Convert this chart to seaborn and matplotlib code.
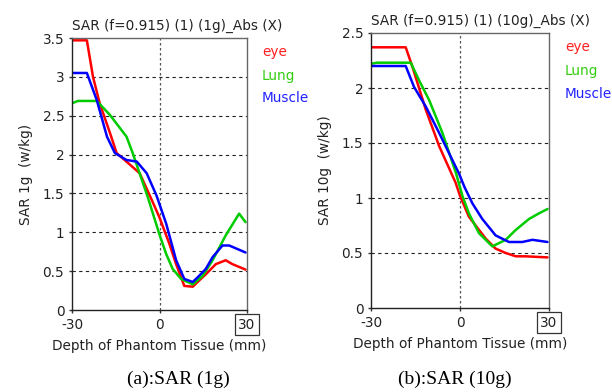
import numpy as np
import pandas as pd
import matplotlib
matplotlib.use("Agg")
import matplotlib.pyplot as plt
import seaborn as sns

# ---- data: panel (a) SAR 1g ----
a_eye_x = [-30, -24.9, -22.8, -20.5, -17, -14.7, -9.2, -6.8, -2.7, 0, 3.4, 5.7, 8.5, 11.4, 13.6, 15.9, 19.3, 22.7, 25, 29.5]
a_eye_y = [3.47, 3.47, 3.0, 2.66, 2.28, 2.02, 1.84, 1.76, 1.42, 1.19, 0.85, 0.59, 0.31, 0.30, 0.38, 0.46, 0.59, 0.64, 0.59, 0.52]
a_lung_x = [-30, -28, -21.5, -17, -11.3, -9.2, -4, 0, 2.3, 4.5, 7.4, 11.4, 14.8, 18.2, 22.7, 27.3, 29.5]
a_lung_y = [2.66, 2.69, 2.69, 2.51, 2.23, 2.02, 1.45, 0.97, 0.72, 0.53, 0.40, 0.33, 0.44, 0.64, 0.96, 1.24, 1.13]
a_muscle_x = [-30, -24.9, -21.5, -18, -15.3, -11.3, -7.8, -4.4, -1, 2.3, 5.7, 8.5, 11.4, 13.6, 15.9, 18.2, 21.6, 23.9, 29.5]
a_muscle_y = [3.05, 3.05, 2.7, 2.23, 2.02, 1.93, 1.91, 1.76, 1.47, 1.11, 0.64, 0.40, 0.36, 0.44, 0.53, 0.68, 0.83, 0.83, 0.74]

# ---- data: panel (b) SAR 10g ----
b_eye_x = [-30, -18.3, -16, -11.5, -7, -1.5, 0, 3, 6.4, 8.7, 12, 15.4, 18.8, 22, 29.5]
b_eye_y = [2.37, 2.37, 2.19, 1.80, 1.47, 1.14, 1.02, 0.83, 0.71, 0.63, 0.54, 0.50, 0.47, 0.47, 0.46]
b_lung_x = [-30, -28, -16.6, -13.8, -10.4, -5.9, -1.4, 0.8, 3, 6.4, 10.9, 15.4, 18.8, 23.3, 26.6, 29.5]
b_lung_y = [2.22, 2.23, 2.23, 2.07, 1.89, 1.59, 1.23, 1.02, 0.86, 0.68, 0.56, 0.62, 0.71, 0.81, 0.86, 0.90]
b_muscle_x = [-30, -18.3, -15.5, -11.5, -7, -0.3, 1.5, 4.2, 7.5, 12, 16.5, 21, 24.4, 29.5]
b_muscle_y = [2.20, 2.20, 2.01, 1.83, 1.59, 1.22, 1.10, 0.95, 0.81, 0.66, 0.60, 0.60, 0.62, 0.60]

series_names = ["eye", "Lung", "Muscle"]
line_colors = {"eye": "#ff0000", "Lung": "#00cc00", "Muscle": "#0000ff"}
label_colors = {"eye": "#ff2020", "Lung": "#33cc11", "Muscle": "#2222ff"}

x_ticks = [-30, 0, 30]
a_yticks = [0, 0.5, 1, 1.5, 2, 2.5, 3, 3.5]
b_yticks = [0, 0.5, 1, 1.5, 2, 2.5]


def make_df(xs, ys):
    frames = []
    for name, x, y in zip(series_names, xs, ys):
        frames.append(pd.DataFrame({"x": x, "y": y, "s": name}))
    return pd.concat(frames, ignore_index=True)


df_a = make_df([a_eye_x, a_lung_x, a_muscle_x], [a_eye_y, a_lung_y, a_muscle_y])
df_b = make_df([b_eye_x, b_lung_x, b_muscle_x], [b_eye_y, b_lung_y, b_muscle_y])

sns.set_style("white")
plt.rcParams["font.family"] = ["DejaVu Sans"]
plt.rcParams["axes.unicode_minus"] = False

fig = plt.figure(figsize=(6.12, 3.92), dpi=100)
ax_a = fig.add_axes([72 / 612, 1 - 310 / 392, (247 - 72) / 612, (310 - 38) / 392])
ax_b = fig.add_axes([371 / 612, 1 - 308 / 392, (549 - 371) / 612, (308 - 33) / 392])

fs = 9.8


def style(ax, df, yticks, ymax, title, ylabel, leg_x, leg_ys):
    sns.lineplot(data=df, x="x", y="y", hue="s", palette=line_colors, sort=False,
                 estimator=None, units="s", ax=ax, linewidth=1.8, legend=False)
    ax.set_xlim(-30, 30)
    ax.set_ylim(0, ymax)
    for yt in yticks[1:-1]:
        ax.axhline(yt, color="#222222", linestyle=(0, (3, 3)), linewidth=0.8, zorder=0)
    ax.axvline(0, color="#555555", linestyle=(0, (2, 2)), linewidth=0.9, zorder=0)
    ax.set_xticks(x_ticks)
    ax.set_xticklabels([str(v) for v in x_ticks])
    ax.set_yticks(yticks)
    ax.set_yticklabels([("%g" % v) for v in yticks])
    ax.tick_params(axis="both", direction="out", length=2.5, width=1.0, color="#333333",
                   labelsize=fs, pad=3, labelcolor="#222222", left=True, bottom=True)
    labels = ax.get_xticklabels()
    labels[-1].set_bbox(dict(boxstyle="square,pad=0.25", facecolor="white", edgecolor="#333333", linewidth=0.9))
    ax.set_xlabel("Depth of Phantom Tissue (mm)", fontsize=fs, color="#222222", labelpad=5)
    ax.set_ylabel(ylabel, fontsize=fs, color="#222222", labelpad=7)
    ax.set_title(title, fontsize=fs, color="#222222", loc="left", pad=6)
    for sp in ["left", "bottom"]:
        ax.spines[sp].set_color("#222222")
        ax.spines[sp].set_linewidth(1.0)
    for sp in ["top", "right"]:
        ax.spines[sp].set_color("#666666")
        ax.spines[sp].set_linewidth(1.0)
    for name, ly in zip(series_names, leg_ys):
        fig.text(leg_x / 612, 1 - ly / 392, name, color=label_colors[name], fontsize=fs,
                 va="center", ha="left")


style(ax_a, df_a, a_yticks, 3.5, "SAR (f=0.915) (1) (1g)_Abs (X)", "SAR 1g  (w/kg)",
      262, [52, 76, 98])
style(ax_b, df_b, b_yticks, 2.5, "SAR (f=0.915) (1) (10g)_Abs (X)", "SAR 10g  (w/kg)",
      565, [47, 71, 94])

fig.text(178 / 612, 1 - 379 / 392, "(a):SAR (1g)", family="Liberation Serif", fontsize=14,
         ha="center", va="center", color="black")
fig.text(455 / 612, 1 - 379 / 392, "(b):SAR (10g)", family="Liberation Serif", fontsize=14,
         ha="center", va="center", color="black")

fig.savefig("out.png", dpi=100)
